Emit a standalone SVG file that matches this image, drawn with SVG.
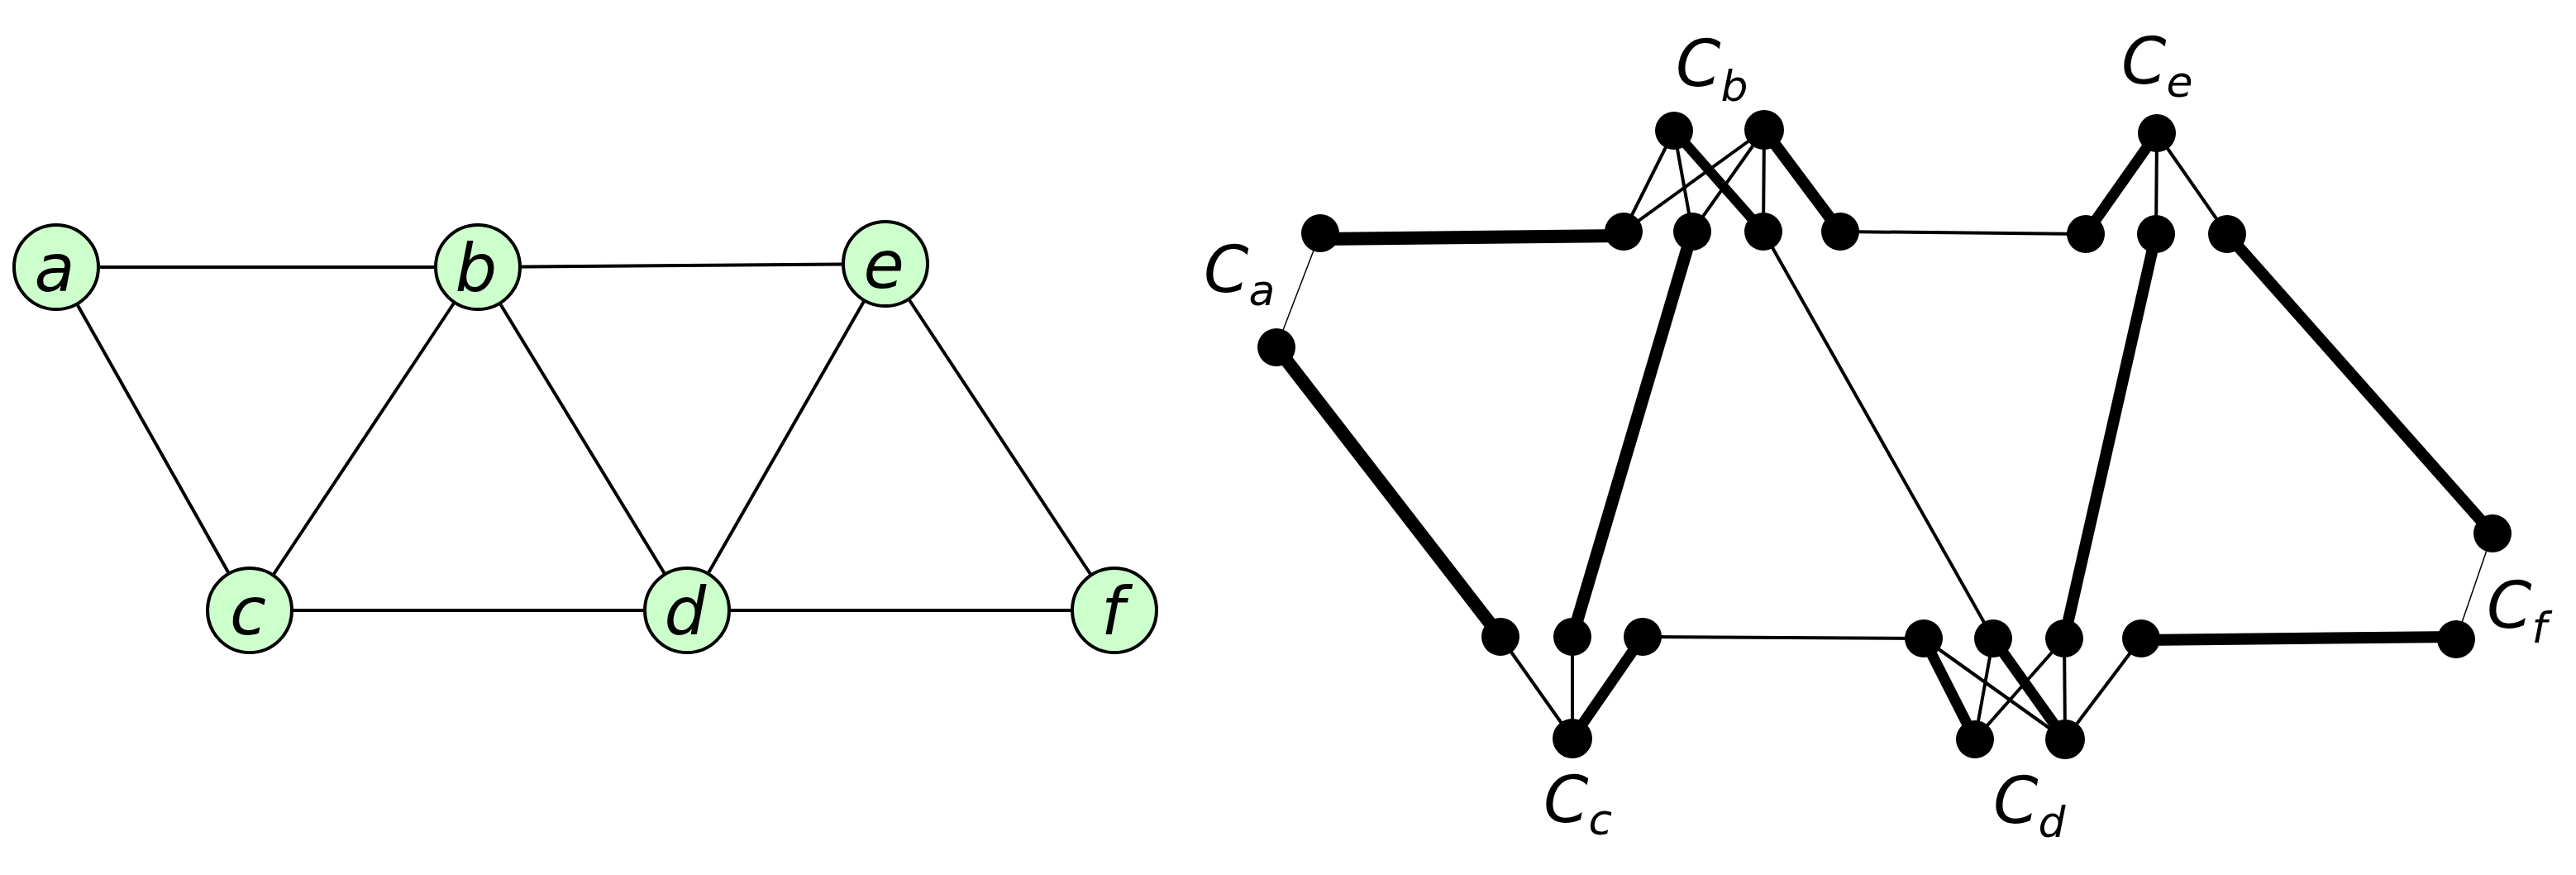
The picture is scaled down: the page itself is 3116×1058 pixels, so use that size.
<svg xmlns="http://www.w3.org/2000/svg" width="3116" height="1058" viewBox="0 0 3116 1058">
<style>
.bg{fill:#ffffff}
.e{stroke:#000;stroke-width:4;fill:none}
.vt{stroke:#000;stroke-width:1.5;fill:none}
.tn{stroke:#000;stroke-width:4;fill:none}
.tk{stroke:#000;stroke-width:13;fill:none}
.tk2{stroke:#000;stroke-width:15;fill:none}
.nd{fill:#ccffcc;stroke:#000;stroke-width:4}
.dot{fill:#000}
.lbl{font-family:"DejaVu Sans",sans-serif;font-style:italic;font-size:80px;fill:#000;text-anchor:middle}
.cl{font-family:"DejaVu Sans",sans-serif;font-style:italic;font-size:78px;fill:#000}
.sub{font-size:52px}
</style>
<rect class="bg" x="0" y="0" width="3116" height="1058"/>
<g id="connectors">
  <g id="left-edges">
    <line class="e" x1="68" y1="323" x2="578" y2="323"/>
    <line class="e" x1="68" y1="323" x2="302" y2="738"/>
    <line class="e" x1="578" y1="323" x2="302" y2="738"/>
    <line class="e" x1="578" y1="323" x2="831" y2="738"/>
    <line class="e" x1="578" y1="323" x2="1071" y2="319"/>
    <line class="e" x1="1071" y1="319" x2="831" y2="738"/>
    <line class="e" x1="1071" y1="319" x2="1348" y2="738"/>
    <line class="e" x1="302" y1="738" x2="831" y2="738"/>
    <line class="e" x1="831" y1="738" x2="1348" y2="738"/>
  </g>
  <g id="right-edges">
    <!-- between cliques -->
    <line class="tk2" x1="1597" y1="289" x2="1964" y2="285" style="stroke-width:16"/>
    <line class="tk2" x1="1544" y1="420" x2="1815" y2="770" style="stroke-width:16"/>
    <line class="tk2" x1="2047" y1="280" x2="1902" y2="770"/>
    <line class="tn" x1="2133" y1="280" x2="2411" y2="772"/>
    <line class="tn" x1="2226" y1="280" x2="2523" y2="283"/>
    <line class="tn" x1="1987" y1="770" x2="2327" y2="772"/>
    <line class="tk2" x1="2608" y1="283" x2="2497" y2="772" style="stroke-width:14"/>
    <line class="tk2" x1="2694" y1="283" x2="3015" y2="645" style="stroke-width:14"/>
    <line class="tk2" x1="2590" y1="774" x2="2971" y2="770" style="stroke-width:14"/>
    <!-- inside Ca, Cf -->
    <line class="vt" x1="1597" y1="282" x2="1544" y2="420"/>
    <line class="vt" x1="3015" y1="645" x2="2971" y2="773"/>
    <!-- inside Cb -->
    <line class="tn" x1="2025" y1="158" x2="1964" y2="280"/>
    <line class="tn" x1="2025" y1="158" x2="2047" y2="280"/>
    <line class="tk" x1="2025" y1="158" x2="2133" y2="280" style="stroke-width:12"/>
    <line class="tn" x1="2134" y1="157" x2="1964" y2="280"/>
    <line class="tn" x1="2134" y1="157" x2="2047" y2="280"/>
    <line class="tn" x1="2134" y1="157" x2="2133" y2="280"/>
    <line class="tk" x1="2134" y1="157" x2="2226" y2="280" style="stroke-width:14"/>
    <!-- inside Ce -->
    <line class="tk" x1="2609" y1="161" x2="2523" y2="283"/>
    <line class="tn" x1="2609" y1="161" x2="2608" y2="283"/>
    <line class="tn" x1="2609" y1="161" x2="2694" y2="283"/>
    <!-- inside Cc -->
    <line class="tn" x1="1902" y1="893" x2="1815" y2="770"/>
    <line class="tn" x1="1902" y1="893" x2="1902" y2="770"/>
    <line class="tk" x1="1902" y1="893" x2="1987" y2="770"/>
    <!-- inside Cd -->
    <line class="tk" x1="2389" y1="894" x2="2327" y2="772"/>
    <line class="tn" x1="2498" y1="894" x2="2327" y2="772"/>
    <line class="tn" x1="2389" y1="894" x2="2411" y2="772"/>
    <line class="tk" x1="2498" y1="894" x2="2411" y2="772"/>
    <line class="tn" x1="2389" y1="894" x2="2497" y2="772"/>
    <line class="tn" x1="2498" y1="894" x2="2497" y2="772"/>
    <line class="tn" x1="2498" y1="894" x2="2590" y2="772"/>
  </g>
</g>
<g id="node-a"><circle class="nd" cx="68" cy="323" r="51"/><text class="lbl" x="66" y="352">a</text></g>
<g id="node-b"><circle class="nd" cx="578" cy="323" r="51"/><text class="lbl" x="576" y="352">b</text></g>
<g id="node-e"><circle class="nd" cx="1071" cy="319" r="51"/><text class="lbl" x="1069" y="348">e</text></g>
<g id="node-c"><circle class="nd" cx="302" cy="738" r="51"/><text class="lbl" x="300" y="767">c</text></g>
<g id="node-d"><circle class="nd" cx="831" cy="738" r="51"/><text class="lbl" x="829" y="767">d</text></g>
<g id="node-f"><circle class="nd" cx="1348" cy="738" r="51"/><text class="lbl" x="1346" y="767">f</text></g>
<g id="clique-Ca">
  <circle class="dot" cx="1597" cy="282" r="23"/>
  <circle class="dot" cx="1544" cy="420" r="23"/>
  <text class="cl" x="1456" y="353">C<tspan class="sub" dy="16">a</tspan></text>
</g>
<g id="clique-Cb">
  <circle class="dot" cx="2025" cy="158" r="23"/>
  <circle class="dot" cx="2134" cy="157" r="24"/>
  <circle class="dot" cx="1964" cy="280" r="23"/>
  <circle class="dot" cx="2047" cy="280" r="23"/>
  <circle class="dot" cx="2133" cy="280" r="23"/>
  <circle class="dot" cx="2226" cy="280" r="23"/>
  <text class="cl" x="2027" y="104">C<tspan class="sub" dy="18">b</tspan></text>
</g>
<g id="clique-Ce">
  <circle class="dot" cx="2609" cy="161" r="23"/>
  <circle class="dot" cx="2523" cy="283" r="23"/>
  <circle class="dot" cx="2608" cy="283" r="23"/>
  <circle class="dot" cx="2694" cy="283" r="23"/>
  <text class="cl" x="2566" y="101">C<tspan class="sub" dy="16">e</tspan></text>
</g>
<g id="clique-Cc">
  <circle class="dot" cx="1815" cy="770" r="23"/>
  <circle class="dot" cx="1902" cy="770" r="23"/>
  <circle class="dot" cx="1987" cy="770" r="23"/>
  <circle class="dot" cx="1902" cy="893" r="24"/>
  <text class="cl" x="1867" y="994">C<tspan class="sub" dy="15">c</tspan></text>
</g>
<g id="clique-Cd">
  <circle class="dot" cx="2327" cy="772" r="23"/>
  <circle class="dot" cx="2411" cy="772" r="23"/>
  <circle class="dot" cx="2497" cy="772" r="23"/>
  <circle class="dot" cx="2590" cy="772" r="23"/>
  <circle class="dot" cx="2389" cy="894" r="23"/>
  <circle class="dot" cx="2498" cy="894" r="24"/>
  <text class="cl" x="2411" y="995">C<tspan class="sub" dy="17">d</tspan></text>
</g>
<g id="clique-Cf">
  <circle class="dot" cx="3015" cy="645" r="23"/>
  <circle class="dot" cx="2971" cy="773" r="23"/>
  <text class="cl" x="3008" y="759">C<tspan class="sub" dy="18">f</tspan></text>
</g>
</svg>
